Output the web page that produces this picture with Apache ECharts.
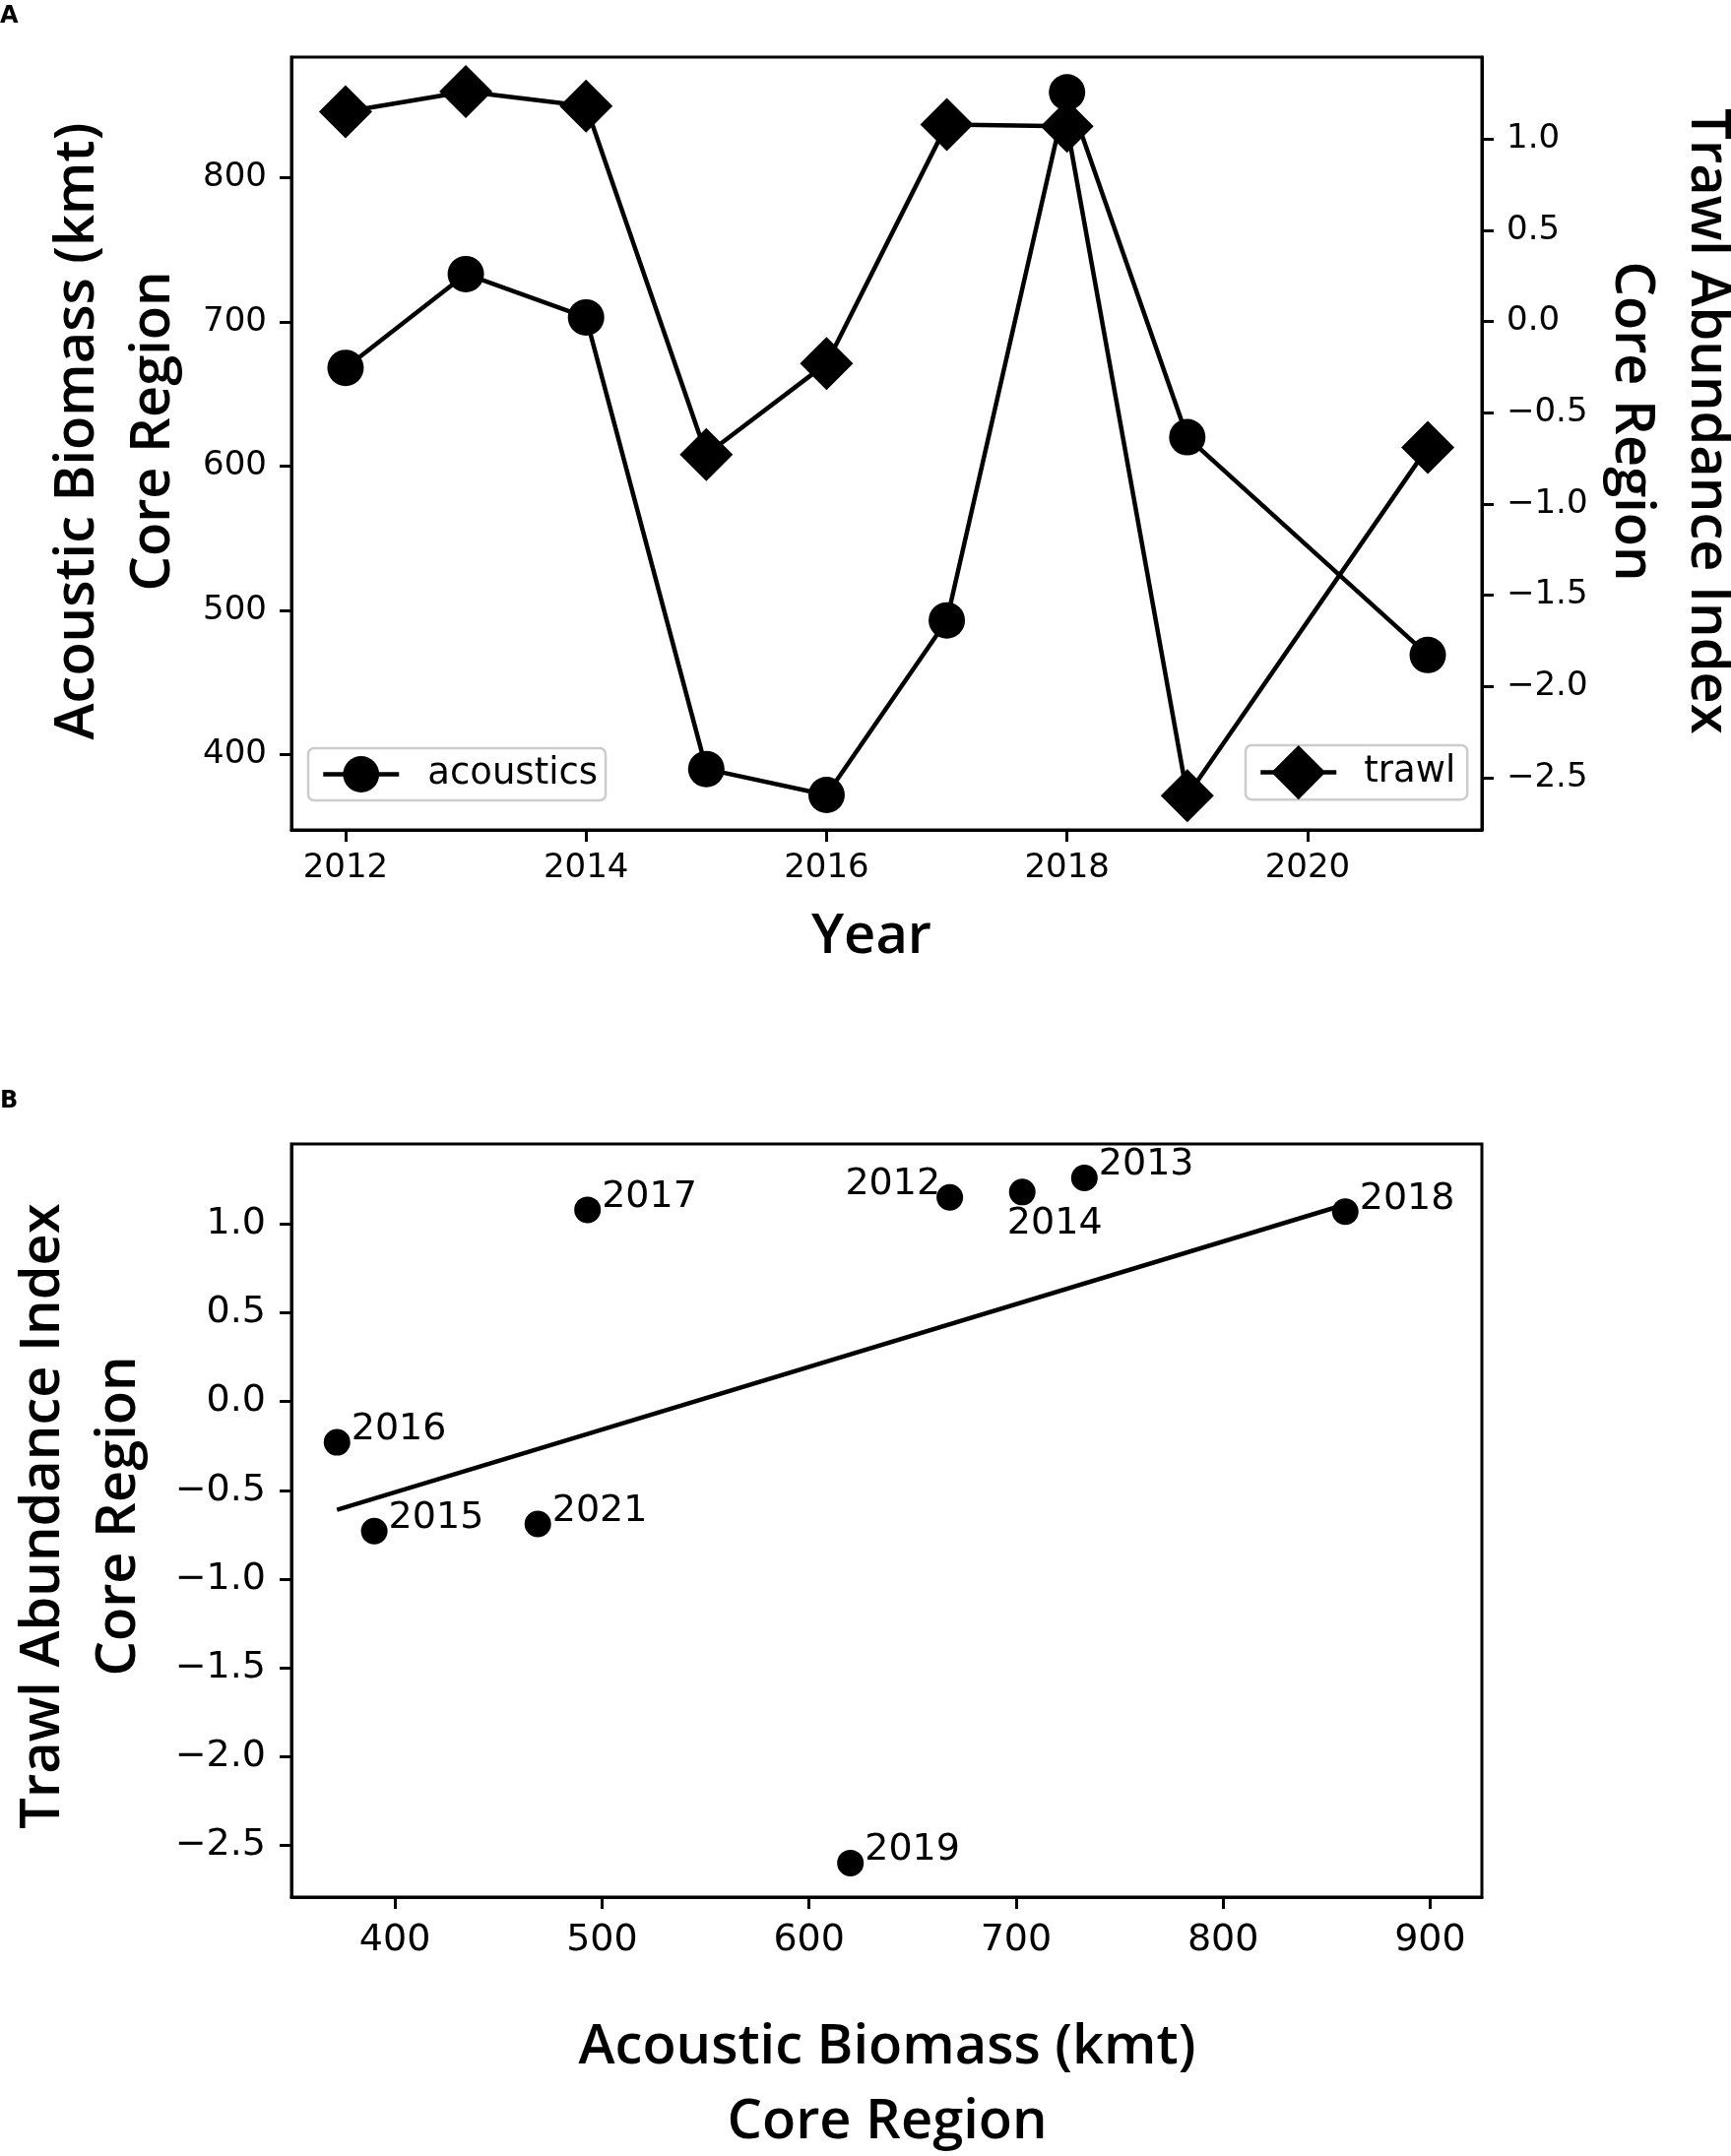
<!DOCTYPE html>
<html>
<head>
<meta charset="utf-8">
<script src="https://cdn.jsdelivr.net/npm/echarts@6/dist/echarts.min.js"></script>
<style>
  html, body { margin: 0; padding: 0; background: #ffffff; }
  #chart { width: 1758px; height: 2190px; }
</style>
</head>
<body>
<div id="chart"></div>
<script>
// ---------------- data ----------------
const years = [2012, 2013, 2014, 2015, 2016, 2017, 2018, 2019, 2021];
const acoustics = [668, 733, 703, 390, 372, 493, 859, 620, 469];          // kmt
const trawl = [1.15, 1.26, 1.18, -0.73, -0.23, 1.08, 1.07, -2.60, -0.69];  // index
const fitBiomass = [372, 859];
const fitTrawl = [-0.61, 1.11];

const yearTicks = [2012, 2014, 2016, 2018, 2020];
const biomassTicksA = [400, 500, 600, 700, 800];
const trawlTicks = [-2.5, -2.0, -1.5, -1.0, -0.5, 0.0, 0.5, 1.0];
const biomassTicksB = [400, 500, 600, 700, 800, 900];

// ---------------- styling ----------------
const INK = '#000000';
const TICK_FONT = 'DejaVu Sans';
const TITLE_FONT = '600 56px "Open Sans"';
const labelSide = { 2012: 'left', 2014: 'below' };  // others: right

const fmtSigned = v => (v < 0 ? '\u2212' + Math.abs(v).toFixed(1) : v.toFixed(1));

function valueAxis(extra) {
  return Object.assign({
    type: 'value',
    splitLine: { show: false },
    axisLine: { show: true, onZero: false, lineStyle: { color: INK, width: 3 } }
  }, extra);
}
function ticks(values) {
  return { show: true, customValues: values, inside: false, length: 12, lineStyle: { color: INK, width: 3 } };
}

const labelStyles = {
  right: { position: 'right', distance: 1, offset: [0, -13] },
  left: { position: 'left', distance: -4, offset: [0, -13] },
  below: { position: 'bottom', distance: 0, offset: [33, 0] }
};

const scatterData = years.map((y, i) => {
  const side = labelSide[y] || 'right';
  return {
    name: String(y),
    value: [acoustics[i], trawl[i]],
    label: labelStyles[side]
  };
});

const chart = echarts.init(document.getElementById('chart'), null, { renderer: 'canvas' });

const option = {
  animation: false,
  backgroundColor: '#ffffff',
  grid: [
    { left: 296, right: 253, top: 58, height: 785, show: true, borderColor: INK, borderWidth: 3, backgroundColor: 'transparent' },
    { left: 296, right: 253, top: 1162, height: 765, show: true, borderColor: INK, borderWidth: 3, backgroundColor: 'transparent' }
  ],
  xAxis: [
    valueAxis({
      gridIndex: 0, min: 2011.55, max: 2021.45,
      axisLabel: { customValues: yearTicks, margin: 22, color: INK, fontSize: 34, fontFamily: TICK_FONT, formatter: v => String(v) },
      axisTick: ticks(yearTicks)
    }),
    valueAxis({
      gridIndex: 1, min: 350, max: 925,
      axisLabel: { customValues: biomassTicksB, margin: 25, color: INK, fontSize: 38, fontFamily: TICK_FONT, formatter: v => String(v) },
      axisTick: ticks(biomassTicksB)
    })
  ],
  yAxis: [
    valueAxis({
      gridIndex: 0, position: 'left', min: 347.8, max: 883.4,
      axisLabel: { customValues: biomassTicksA, margin: 25, color: INK, fontSize: 34, fontFamily: TICK_FONT, formatter: v => String(v) },
      axisTick: ticks(biomassTicksA)
    }),
    valueAxis({
      gridIndex: 0, position: 'right', min: -2.787, max: 1.449,
      axisLabel: { customValues: trawlTicks, margin: 25, color: INK, fontSize: 34, fontFamily: TICK_FONT, formatter: fmtSigned },
      axisTick: ticks(trawlTicks)
    }),
    valueAxis({
      gridIndex: 1, position: 'left', min: -2.792, max: 1.451,
      axisLabel: { customValues: trawlTicks, margin: 26, color: INK, fontSize: 38, fontFamily: TICK_FONT, formatter: fmtSigned },
      axisTick: ticks(trawlTicks)
    })
  ],
  legend: [
    {
      data: ['acoustics'], selectedMode: false, orient: 'horizontal',
      left: 313, top: 760, itemWidth: 77, itemHeight: 46,
      padding: [8, 8, 8, 13],
      backgroundColor: '#ffffff', borderColor: '#cccccc', borderWidth: 2.5, borderRadius: 6,
      lineStyle: { color: INK, width: 4.5 },
      itemStyle: { color: INK },
      textStyle: { color: INK, fontSize: 37, fontFamily: TICK_FONT, padding: [0, 0, 0, 24] }
    },
    {
      data: ['trawl'], selectedMode: false, orient: 'horizontal',
      left: 1265, top: 757, itemWidth: 77, itemHeight: 69,
      padding: [0, 12, 0, 13],
      backgroundColor: '#ffffff', borderColor: '#cccccc', borderWidth: 2.5, borderRadius: 6,
      lineStyle: { color: INK, width: 4.5 },
      itemStyle: { color: INK },
      textStyle: { color: INK, fontSize: 37, fontFamily: TICK_FONT, padding: [0, 0, 0, 23] }
    }
  ],
  series: [
    {
      name: 'acoustics', type: 'line', xAxisIndex: 0, yAxisIndex: 0, z: 2,
      data: years.map((y, i) => [y, acoustics[i]]),
      symbol: 'circle', symbolSize: 37, showAllSymbol: true,
      itemStyle: { color: INK, opacity: 1 },
      lineStyle: { color: INK, width: 4.5 }
    },
    {
      name: 'trawl', type: 'line', xAxisIndex: 0, yAxisIndex: 1, z: 3,
      data: years.map((y, i) => [y, trawl[i]]),
      symbol: 'diamond', symbolSize: 54, showAllSymbol: true,
      itemStyle: { color: INK, opacity: 1 },
      lineStyle: { color: INK, width: 4.5 }
    },
    {
      name: 'fit', type: 'line', xAxisIndex: 1, yAxisIndex: 2, z: 2,
      data: fitBiomass.map((b, i) => [b, fitTrawl[i]]),
      symbol: 'none',
      lineStyle: { color: INK, width: 4.5 }
    },
    {
      name: 'years', type: 'scatter', xAxisIndex: 1, yAxisIndex: 2, z: 3,
      data: scatterData,
      symbol: 'circle', symbolSize: 27,
      itemStyle: { color: INK, opacity: 1 },
      label: {
        show: true, formatter: '{b}', color: INK, opacity: 1,
        fontSize: 38, fontFamily: TICK_FONT
      }
    }
  ],
  graphic: [
    { type: 'text', x: 0, y: 17, style: { text: 'A', font: 'bold 24px "DejaVu Sans"', fill: INK, align: 'left', verticalAlign: 'middle' } },
    { type: 'text', x: 0, y: 1119, style: { text: 'B', font: 'bold 24px "DejaVu Sans"', fill: INK, align: 'left', verticalAlign: 'middle' } },
    { type: 'text', x: 118, y: 438, rotation: Math.PI / 2,
      style: { text: 'Acoustic Biomass (kmt)\nCore Region', font: TITLE_FONT, lineHeight: 77, fill: INK, align: 'center', verticalAlign: 'middle' } },
    { type: 'text', x: 1695, y: 428, rotation: -Math.PI / 2,
      style: { text: 'Trawl Abundance Index\nCore Region', font: TITLE_FONT, lineHeight: 77, fill: INK, align: 'center', verticalAlign: 'middle' } },
    { type: 'text', x: 885, y: 952,
      style: { text: 'Year', font: TITLE_FONT, fill: INK, align: 'center', verticalAlign: 'middle' } },
    { type: 'text', x: 83, y: 1540, rotation: Math.PI / 2,
      style: { text: 'Trawl Abundance Index\nCore Region', font: TITLE_FONT, lineHeight: 77, fill: INK, align: 'center', verticalAlign: 'middle' } },
    { type: 'text', x: 901, y: 2118,
      style: { text: 'Acoustic Biomass (kmt)\nCore Region', font: TITLE_FONT, lineHeight: 76, fill: INK, align: 'center', verticalAlign: 'middle' } }
  ]
};

chart.setOption(option);
</script>
</body>
</html>
